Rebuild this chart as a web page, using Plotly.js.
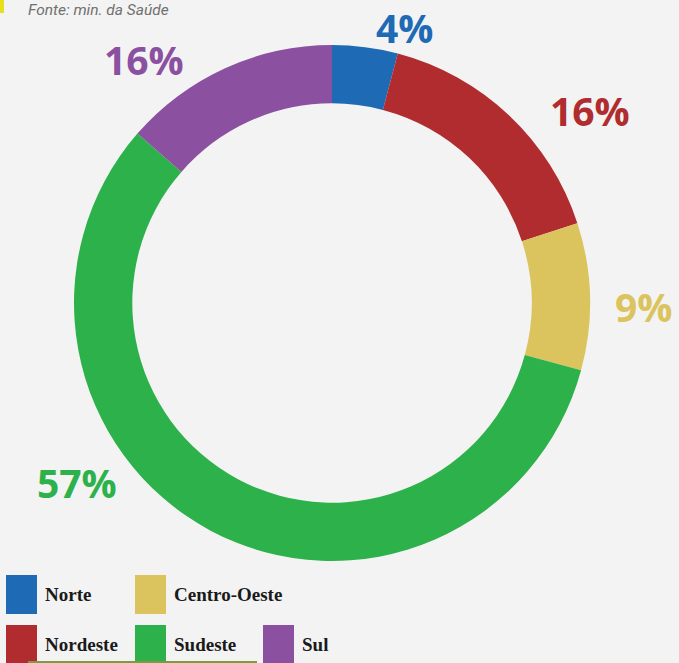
<!DOCTYPE html>
<html>
<head>
<meta charset="utf-8">
<script src="https://cdn.plot.ly/plotly-3.0.1.min.js"></script>
<style>
html,body{margin:0;padding:0;background:#f3f3f3;}
#chart{width:679px;height:663px;}
</style>
</head>
<body>
<div id="chart"></div>
<script>
// ---- data ----
const regions = ["Norte", "Nordeste", "Centro-Oeste", "Sudeste", "Sul"];
const shares = [4.1, 15.9, 9.2, 57.2, 13.6];          // slice sizes
const shareLabels = ["4%", "16%", "9%", "57%", "16%"];  // printed labels
const colors = ["#1f6ab4", "#b02c2f", "#dbc45e", "#2db14b", "#8b51a0"];
const sourceText = "Fonte: min. da Saúde";

// ---- layout helpers ----
const W = 679, H = 663;
const px = x => x / W;
const py = y => 1 - y / H;

// label positions (pixel centres) for each slice label
const labelPos = [[404, 28], [590, 111], [643, 306], [77, 482], [144, 59]];
// legend slots [column, row] for each region
const legendSlot = [[0, 0], [0, 1], [1, 0], [1, 1], [2, 1]];
const legendCols = [6, 135, 263];
const legendRows = [575, 625];
const swatchW = 31, swatchH = 39;

const annotations = [];
const shapes = [];

regions.forEach((r, i) => {
  annotations.push({
    x: px(labelPos[i][0]), y: py(labelPos[i][1]), xref: "paper", yref: "paper",
    xanchor: "center", yanchor: "middle", showarrow: false,
    text: "<b>" + shareLabels[i] + "</b>",
    font: {family: "Open Sans", size: 39, color: colors[i]}
  });
  const x0 = legendCols[legendSlot[i][0]], y0 = legendRows[legendSlot[i][1]];
  shapes.push({
    type: "rect", xref: "paper", yref: "paper",
    x0: px(x0), x1: px(x0 + swatchW), y0: py(y0), y1: py(y0 + swatchH),
    fillcolor: colors[i], line: {width: 0}
  });
  annotations.push({
    x: px(x0 + swatchW + 6), y: py(y0 + 19), xref: "paper", yref: "paper",
    xanchor: "left", yanchor: "middle", showarrow: false,
    text: "<b>" + r + "</b>",
    font: {family: "Liberation Serif", size: 19, color: "#1a1a1a"}
  });
});

// source line + yellow marker
annotations.push({
  x: px(26), y: py(10), xref: "paper", yref: "paper",
  xanchor: "left", yanchor: "middle", showarrow: false,
  text: "<i>" + sourceText + "</i>",
  font: {family: "Roboto", size: 15.5, color: "#707070"}
});
shapes.push({type: "rect", xref: "paper", yref: "paper",
  x0: 0, x1: px(4), y0: py(13), y1: 1, fillcolor: "#e6df1c", line: {width: 0}});
shapes.push({type: "line", xref: "paper", yref: "paper",
  x0: px(28), x1: px(257), y0: py(662), y1: py(662),
  line: {color: "#7f9a3f", width: 2}});

const trace = {
  type: "pie",
  labels: regions,
  values: shares,
  sort: false,
  direction: "clockwise",
  rotation: 0,
  hole: 0.774,
  textinfo: "none",
  marker: {colors: colors, line: {width: 0}},
  domain: {x: [px(74), px(590)], y: [py(561), py(45)]},
  showlegend: false
};

const layout = {
  width: W, height: H,
  margin: {l: 0, r: 0, t: 0, b: 0},
  paper_bgcolor: "#f3f3f3",
  plot_bgcolor: "#f3f3f3",
  showlegend: false,
  annotations: annotations,
  shapes: shapes
};

Plotly.newPlot("chart", [trace], layout, {displayModeBar: false, staticPlot: true});
</script>
</body>
</html>
